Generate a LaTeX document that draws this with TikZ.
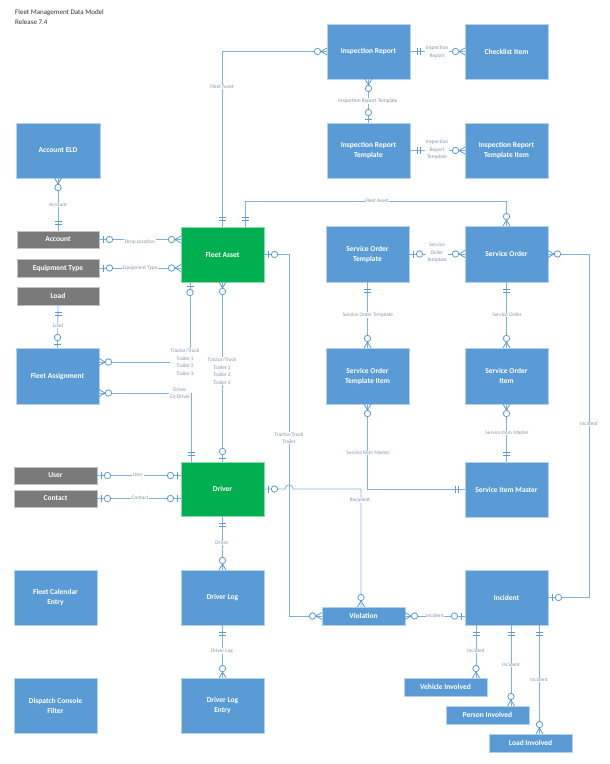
\documentclass[tikz,border=0pt]{standalone}
\usepackage{fontspec}
\setmainfont{Carlito}
\usetikzlibrary{calc}
\definecolor{boxblue}{HTML}{5B9BD5}
\definecolor{boxgray}{HTML}{7A7A7A}
\definecolor{boxgreen}{HTML}{00B050}
\definecolor{linec}{HTML}{82B0DE}
\definecolor{mkc}{HTML}{5B9BD5}
\definecolor{lblc}{HTML}{8293AC}
\tikzset{
  ent/.style={draw=#1!45!white, fill=#1, line width=0.6pt, text=white,
    font=\fontsize{7.5}{10}\selectfont\bfseries, align=center,
    inner sep=0pt, outer sep=0pt, anchor=north west},
  conn/.style={draw=linec, line width=0.8pt},
  mk/.style={draw=mkc, line width=0.8pt},
  lbl/.style={fill=white, inner sep=0.6pt, text=lblc,
    font=\fontsize{5.3}{7.5}\selectfont, align=center},
  pics/oneone/.style={code={\draw[mk] (7,-3.5)--(7,3.5) (10,-3.5)--(10,3.5);}},
  pics/zone/.style={code={\draw[mk] (4,-3.5)--(4,3.5); \draw[mk,fill=white] (10.5,0) circle[radius=3.2pt];}},
  pics/zmany/.style={code={\draw[mk] (0,-3.5)--(6,0)--(0,3.5); \draw[mk,fill=white] (9.5,0) circle[radius=3.2pt];}},
}
\begin{document}
\begin{tikzpicture}[x=1pt,y=-1pt]
\useasboundingbox[fill=white] (0,0) rectangle (610,764);
\node[anchor=north west, font=\fontsize{7}{10}\selectfont, align=left, text=black!80, inner sep=0pt] (title) at (15,9) {Fleet Management Data Model\\Release 7.4};

% entities
\node[ent=boxblue, minimum width=83pt, minimum height=55pt] (ir) at (327,24) {Inspection Report};
\node[ent=boxblue, minimum width=83pt, minimum height=55pt] (ci) at (465,24) {Checklist Item};
\node[ent=boxblue, minimum width=83pt, minimum height=55pt] (irt) at (327,123) {Inspection Report\\Template};
\node[ent=boxblue, minimum width=83pt, minimum height=55pt] (irti) at (465,123) {Inspection Report\\Template Item};
\node[ent=boxblue, minimum width=84pt, minimum height=55pt] (eld) at (16,123) {Account ELD};
\node[ent=boxgray, minimum width=82pt, minimum height=17pt] (acc) at (17,231) {Account};
\node[ent=boxgray, minimum width=82pt, minimum height=18pt] (et) at (17,259) {Equipment Type};
\node[ent=boxgray, minimum width=82pt, minimum height=18pt] (load) at (17,287) {Load};
\node[ent=boxgreen, minimum width=83pt, minimum height=55pt] (fa) at (181,227) {Fleet Asset};
\node[ent=boxblue, minimum width=83pt, minimum height=56pt] (sot) at (326,226) {Service Order\\Template};
\node[ent=boxblue, minimum width=83pt, minimum height=56pt] (so) at (465,226) {Service Order};
\node[ent=boxblue, minimum width=83pt, minimum height=56pt] (fasg) at (16,348) {Fleet Assignment};
\node[ent=boxblue, minimum width=83pt, minimum height=56pt] (soti) at (326,348) {Service Order\\Template Item};
\node[ent=boxblue, minimum width=83pt, minimum height=56pt] (soi) at (465,348) {Service Order\\Item};
\node[ent=boxgray, minimum width=83pt, minimum height=17pt] (user) at (14,467) {User};
\node[ent=boxgray, minimum width=83pt, minimum height=17pt] (cont) at (14,490) {Contact};
\node[ent=boxgreen, minimum width=83pt, minimum height=54pt] (drv) at (181,462) {Driver};
\node[ent=boxblue, minimum width=83pt, minimum height=55pt] (sim) at (465,462) {Service Item Master};
\node[ent=boxblue, minimum width=83pt, minimum height=55pt] (fce) at (14,570) {Fleet Calendar\\Entry};
\node[ent=boxblue, minimum width=83pt, minimum height=55pt] (dcf) at (14,678) {Dispatch Console\\Filter};
\node[ent=boxblue, minimum width=83pt, minimum height=55pt] (dl) at (181,570) {Driver Log};
\node[ent=boxblue, minimum width=83pt, minimum height=55pt] (dle) at (181,678) {Driver Log\\Entry};
\node[ent=boxblue, minimum width=83pt, minimum height=18pt] (vio) at (322,607) {Violation};
\node[ent=boxblue, minimum width=83pt, minimum height=55pt] (inc) at (465,570) {Incident};
\node[ent=boxblue, minimum width=83pt, minimum height=18pt] (veh) at (404,678) {Vehicle Involved};
\node[ent=boxblue, minimum width=83pt, minimum height=18pt] (per) at (446,706) {Person Involved};
\node[ent=boxblue, minimum width=83pt, minimum height=18pt] (li) at (489,734) {Load Involved};

% helper coordinates
\coordinate (fa2) at ([xshift=23pt]fa.north);
\coordinate (fa3) at ([xshift=-32.5pt]fa.south);
\coordinate (fasg1) at ([yshift=14pt]fasg.east);
\coordinate (fasg2) at ([yshift=-17pt]fasg.east);
\coordinate (drv2) at ([xshift=-31pt]drv.north);
\coordinate (vio2) at ([xshift=-2.5pt]vio.north);
\coordinate (inc1) at ([xshift=-30.5pt]inc.south);
\coordinate (inc2) at ([xshift=4.5pt]inc.south);
\coordinate (inc3) at ([xshift=33pt]inc.south);

% connectors
\draw[conn] (fa.north) |- (ir.west);
\draw[conn] (ir.south) -- (irt.north);
\draw[conn] (ir.east) -- (ci.west);
\draw[conn] (irt.east) -- (irti.west);
\draw[conn] (eld.south) -- (acc.north);
\draw[conn] (acc.east) -- (acc.east -| fa.west);
\draw[conn] (et.east) -- (et.east -| fa.west);
\draw[conn] (load.south) -- (fasg.north);
\draw[conn] (fa2) -- ++(0,-26) -| (so.north);
\draw[conn] (fa.east) -- ++(25,0) |- (vio.west);
\draw[conn] (fa3) |- (fasg1);
\draw[conn] (fa.south) -- (drv.north);
\draw[conn] (fasg2) -| (drv2);
\draw[conn] (user.east) -- (user.east -| drv.west);
\draw[conn] (cont.east) -- (cont.east -| drv.west);
\draw[conn] (drv.east) -- ($(drv.east)+(21,0)$) .. controls ($(drv.east)+(21,-5.5)$) and ($(drv.east)+(29,-5.5)$) .. ($(drv.east)+(29,0)$) -| (vio2);
\draw[conn] (drv.south) -- (dl.north);
\draw[conn] (dl.south) -- (dle.north);
\draw[conn] (sot.east) -- (so.west);
\draw[conn] (so.east) -- ++(41,0) |- (inc.east);
\draw[conn] (sot.south) -- (soti.north);
\draw[conn] (so.south) -- (soi.north);
\draw[conn] (soti.south) |- (sim.west);
\draw[conn] (soi.south) -- (sim.north);
\draw[conn] (vio.east) -- (vio.east -| inc.west);
\draw[conn] (inc1) -- (inc1 |- veh.north);
\draw[conn] (inc2) -- (inc2 |- per.north);
\draw[conn] (inc3) -- (inc3 |- li.north);

% end markers
\pic[rotate=90] at (fa.north) {oneone};
\pic[rotate=180] at (ir.west) {zmany};
\pic[rotate=-90] at (ir.south) {zmany};
\pic[rotate=90] at (irt.north) {zone};
\pic at (ir.east) {oneone};
\pic[rotate=180] at (ci.west) {zmany};
\pic at (irt.east) {oneone};
\pic[rotate=180] at (irti.west) {zmany};
\pic[rotate=-90] at (eld.south) {zmany};
\pic[rotate=90] at (acc.north) {oneone};
\pic at (acc.east) {zone};
\pic[rotate=180] at (acc.east -| fa.west) {zmany};
\pic at (et.east) {zone};
\pic[rotate=180] at (et.east -| fa.west) {zmany};
\pic[rotate=-90] at (load.south) {oneone};
\pic[rotate=90] at (fasg.north) {zone};
\pic[rotate=90] at (fa2) {oneone};
\pic[rotate=90] at (so.north) {zmany};
\pic at (fa.east) {zone};
\pic[rotate=180] at (vio.west) {zmany};
\pic[rotate=-90] at (fa3) {zone};
\pic at (fasg1) {zmany};
\pic[rotate=-90] at (fa.south) {zmany};
\pic[rotate=90] at (drv.north) {zone};
\pic at (fasg2) {zmany};
\pic[rotate=90] at (drv2) {oneone};
\pic at (user.east) {zone};
\pic[rotate=180] at (user.east -| drv.west) {zone};
\pic at (cont.east) {zone};
\pic[rotate=180] at (cont.east -| drv.west) {zone};
\pic at (drv.east) {zone};
\pic[rotate=90] at (vio2) {zmany};
\pic[rotate=-90] at (drv.south) {oneone};
\pic[rotate=90] at (dl.north) {zmany};
\pic[rotate=-90] at (dl.south) {oneone};
\pic[rotate=90] at (dle.north) {zmany};
\pic at (sot.east) {zone};
\pic[rotate=180] at (so.west) {zmany};
\pic at (so.east) {zmany};
\pic at (inc.east) {zone};
\pic[rotate=-90] at (sot.south) {oneone};
\pic[rotate=90] at (soti.north) {zmany};
\pic[rotate=-90] at (so.south) {oneone};
\pic[rotate=90] at (soi.north) {zmany};
\pic[rotate=-90] at (soti.south) {zmany};
\pic[rotate=180] at (sim.west) {oneone};
\pic[rotate=-90] at (soi.south) {zmany};
\pic[rotate=90] at (sim.north) {oneone};
\pic at (vio.east) {zmany};
\pic[rotate=180] at (vio.east -| inc.west) {zone};
\pic[rotate=-90] at (inc1) {oneone};
\pic[rotate=90] at (inc1 |- veh.north) {zmany};
\pic[rotate=-90] at (inc2) {oneone};
\pic[rotate=90] at (inc2 |- per.north) {zmany};
\pic[rotate=-90] at (inc3) {oneone};
\pic[rotate=90] at (inc3 |- li.north) {zmany};

% labels
\node[lbl] (l1) at (222,87) {Fleet Asset};
\node[lbl] (l2) at (368,101) {Inspection Report Template};
\node[lbl] (l3) at (437,52) {Inspection\\Report};
\node[lbl] (l4) at (437,150) {Inspection\\Report\\Template};
\node[lbl] (l5) at (58,205) {Account};
\node[lbl] (l6) at (140,242) {Drop Location};
\node[lbl] (l7) at (140,268) {Equipment Type};
\node[lbl] (l8) at (58,326) {Load};
\node[lbl] (l9) at (377,201) {Fleet Asset};
\node[lbl] (l10) at (289,438) {Tractor/Truck\\Trailer};
\node[lbl] (l11) at (185,362) {Tractor/Truck\\Trailer 1\\Trailer 2\\Trailer 3};
\node[lbl] (l12) at (222,371) {Tractor/Truck\\Trailer 1\\Trailer 2\\Trailer 3};
\node[lbl] (l13) at (180,393) {Driver\\Co-Driver};
\node[lbl] (l14) at (138,475) {User};
\node[lbl] (l15) at (140,498) {Contact};
\node[lbl] (l16) at (360,500) {Recipient};
\node[lbl] (l17) at (222,543) {Driver};
\node[lbl] (l18) at (222,651) {Driver Log};
\node[lbl] (l19) at (437,253) {Service\\Order\\Template};
\node[lbl] (l20) at (589,424) {Incident};
\node[lbl] (l21) at (368,315) {Service Order Template};
\node[lbl] (l22) at (507,315) {Service Order};
\node[lbl] (l23) at (368,453) {Service Item Master};
\node[lbl] (l24) at (507,433) {Service Item Master};
\node[lbl] (l25) at (435,616) {Incident};
\node[lbl] (l26) at (476,651) {Incident};
\node[lbl] (l27) at (511,665) {Incident};
\node[lbl] (l28) at (539,680) {Incident};
\end{tikzpicture}
\end{document}
